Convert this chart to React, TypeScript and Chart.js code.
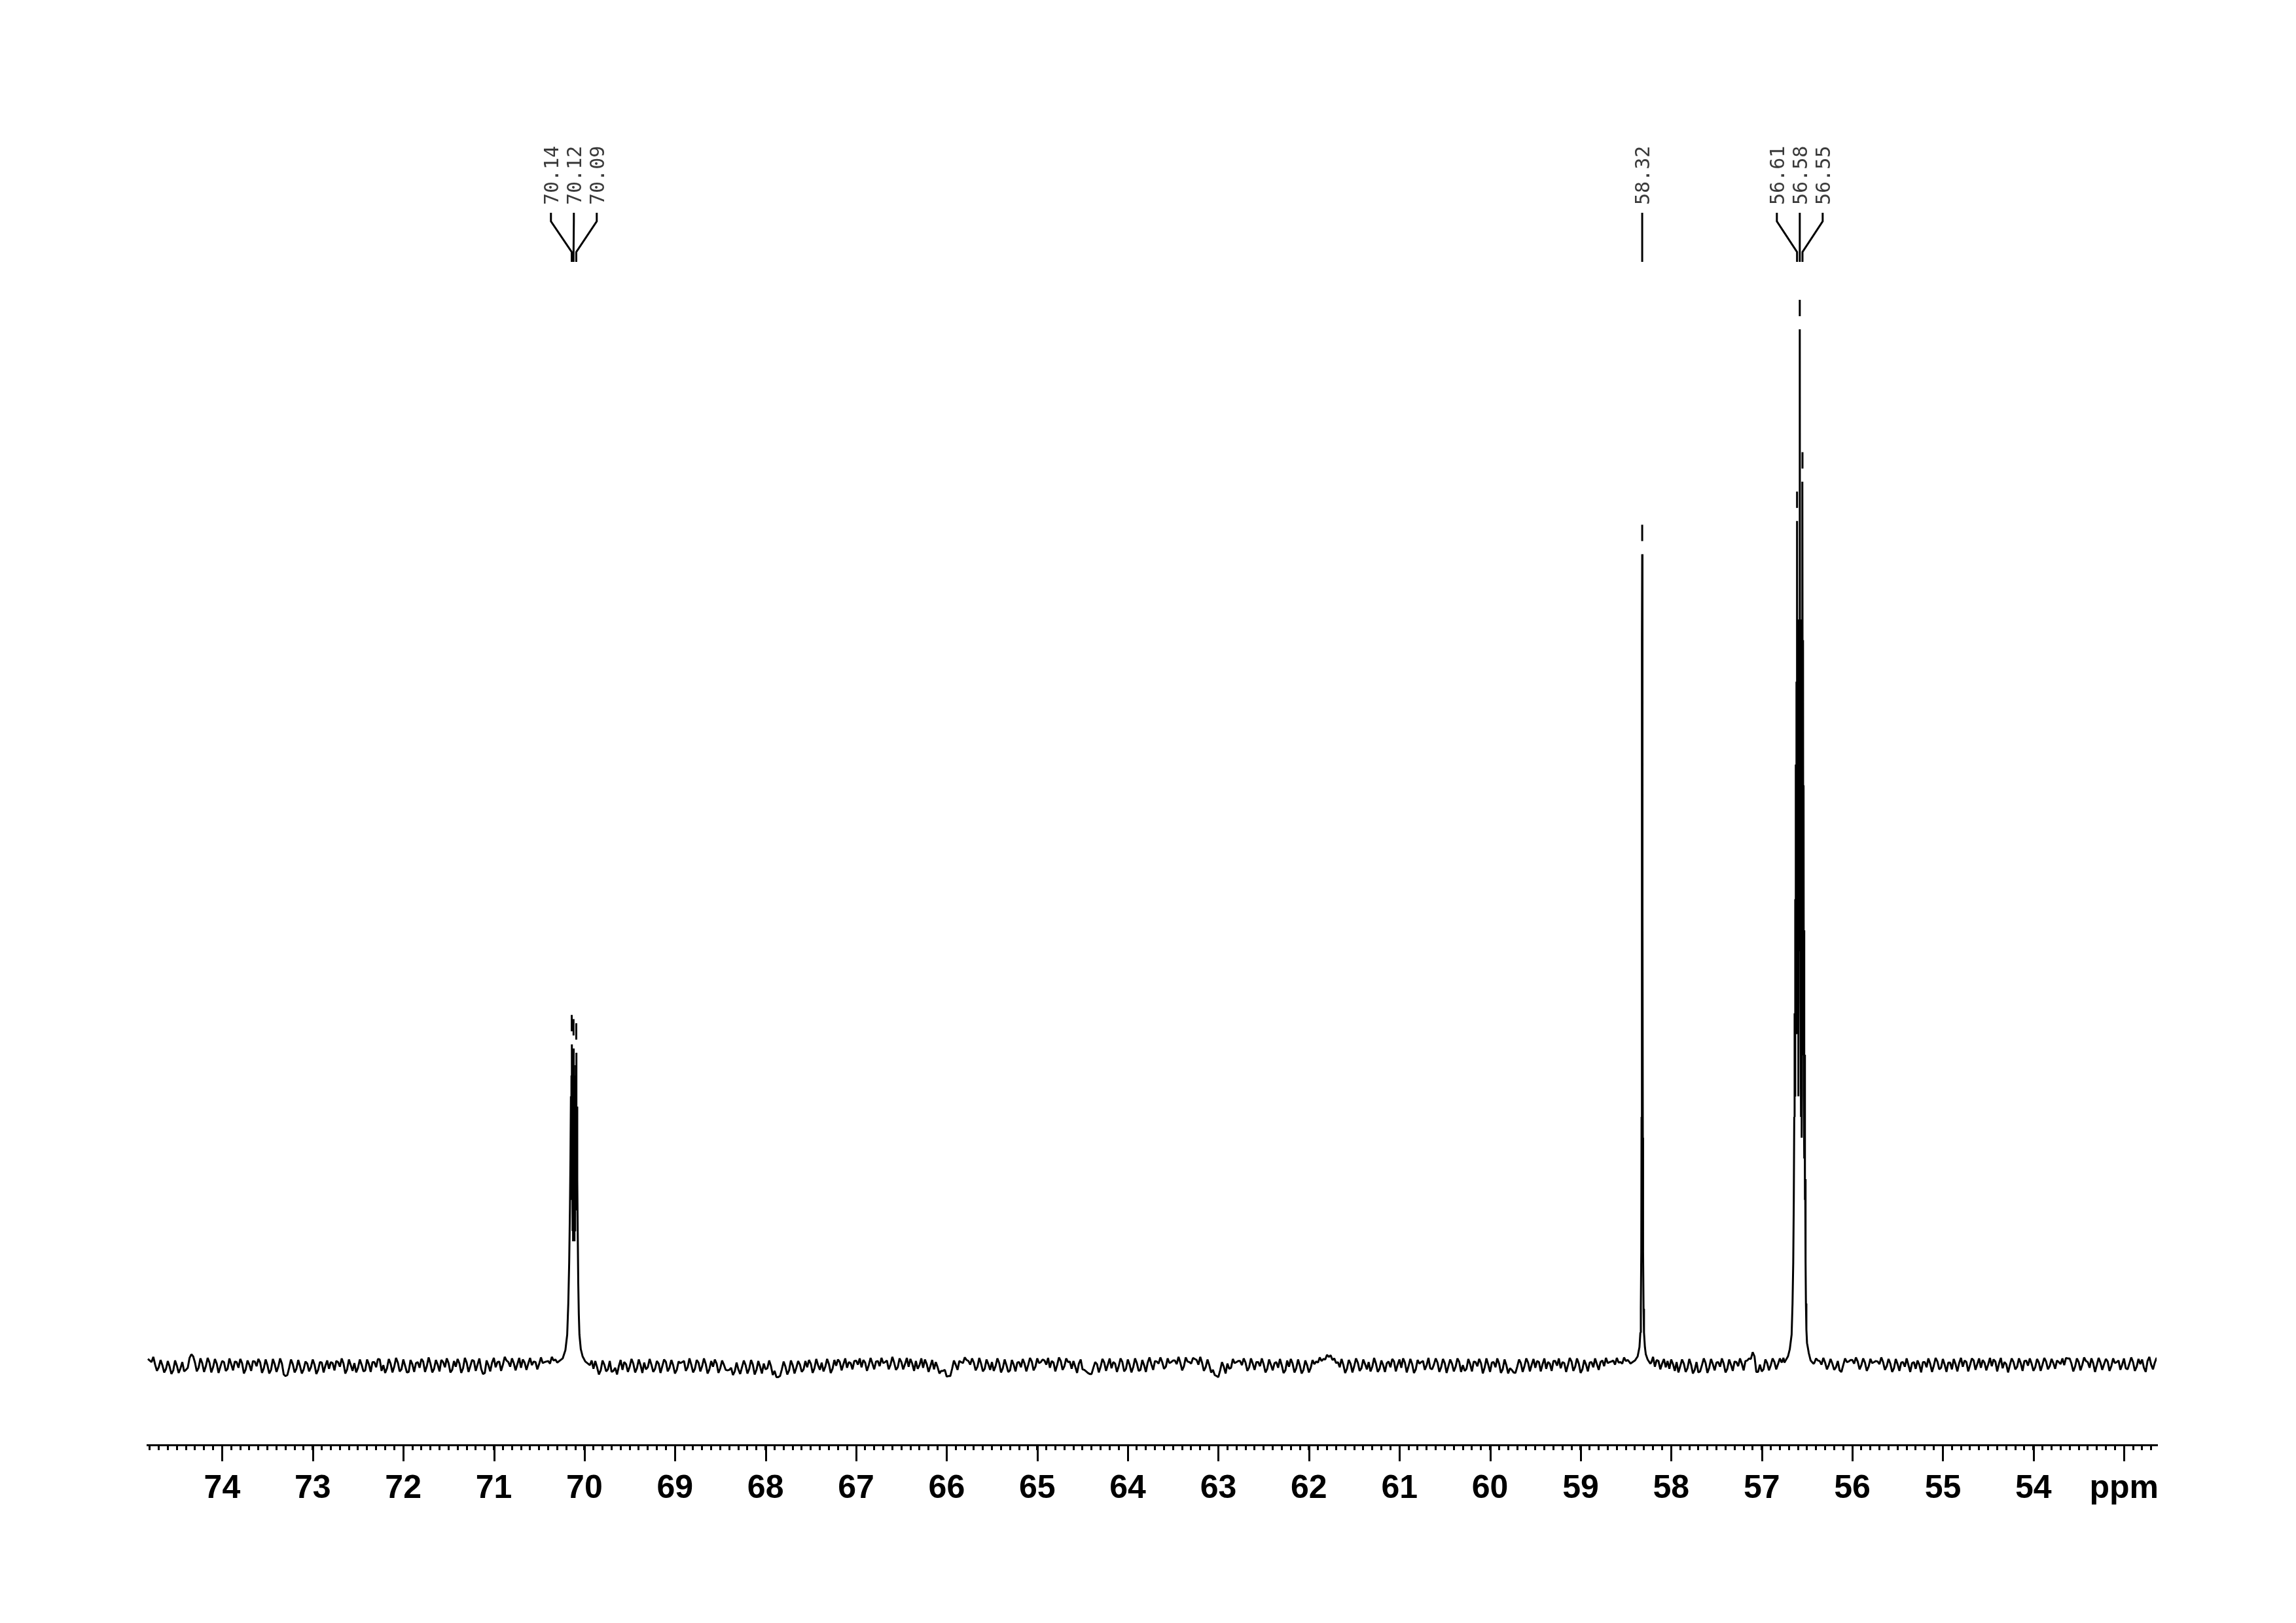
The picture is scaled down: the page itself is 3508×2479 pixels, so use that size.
import React, { useEffect, useRef } from 'react';
import { Chart, registerables } from 'chart.js';

Chart.register(...registerables);

// ---- axis ----
const X_MIN = 52.64;
const X_MAX = 74.827;
const Y_MIN = -7.644;
const Y_MAX = 112.82;
const majorTickValues = [74, 73, 72, 71, 70, 69, 68, 67, 66, 65, 64, 63, 62, 61, 60, 59, 58, 57, 56, 55, 54, 53];
const majorTickLabels = ['74', '73', '72', '71', '70', '69', '68', '67', '66', '65', '64', '63', '62', '61', '60', '59', '58', '57', '56', '55', '54', 'ppm'];
const minorTickFirstTenth = 527;
const minorTickLastTenth = 748;

// ---- baseline (noise) ----
// values every 0.04 ppm starting at 74.82 ppm
const noiseStartPpm = 74.82;
// values every 0.04 ppm starting at 74.80 ppm (in between the first set)
const noiseMidStartPpm = 74.80;
const noiseStepPpm = 0.04;
const baselineNoise: (number | null)[] = [
  0.65, 0.35, 0.10, -0.15, 0.05, -0.30, -0.10, -0.45, 0.00, -0.25, -0.55, -0.20, 1.10, 0.30, -0.20, 0.25, -0.05, 0.30, -0.15, 0.20,
  -0.10, 0.35, -0.30, 0.15, 0.40, -0.20, 0.25, -0.35, 0.10, 0.45, -0.05, 0.30, -0.25, 0.05, -0.40, 0.15, -0.10, 0.20, -1.00, -0.20,
  0.15, -0.30, -0.05, -0.35, 0.20, -0.15, 0.10, -0.40, 0.30, 0.00, -0.30, 0.25, 0.45, -0.10, 0.20, -0.35, 0.05, 0.25, -0.20, 0.10,
  -0.45, 0.15, 0.35, -0.15, 0.60, 0.05, -0.25, 0.20, -0.10, 0.30, -0.35, 0.00, -0.60, 0.15, 0.25, -0.20, 0.40, -0.05, 0.20, -0.30,
  0.10, 0.55, -0.15, 0.25, -0.40, -0.10, 0.20, -0.25, 0.30, -0.05, 0.45, 0.10, -0.30, -0.70, 0.05, 0.30, -0.15, 0.40, 0.10, 0.50,
  -0.10, 0.25, 0.15, -0.20, 0.30, 0.20, 0.05, 0.35, 0.15, 0.25, 0.40, 0.20, 0.50, null, null, null, null, null, null, null,
  null, null, 0.05, -0.30, -0.15, -0.45, 0.10, -0.35, -0.60, -0.20, -0.05, -0.40, 0.15, -0.10, 0.20, -0.25, 0.05, 0.30, -0.15, 0.10,
  -0.30, 0.20, -0.05, 0.35, -0.20, 0.05, -0.40, 0.25, 0.45, -0.15, 0.10, -0.30, 0.30, -0.05, 0.15, -0.35, -0.10, 0.20, -0.25, 0.10,
  -0.45, -0.20, -0.55, -0.35, -0.15, 0.05, -0.30, 0.10, -0.40, -0.10, 0.20, -0.25, -0.05, -0.50, -1.10, -0.35, -0.10, -0.45, 0.05, -0.20,
  0.10, -0.35, -0.15, 0.20, -0.25, 0.05, 0.30, -0.10, 0.15, -0.30, 0.00, 0.35, 0.15, -0.20, 0.25, 0.45, 0.10, -0.15, 0.30, 0.05,
  0.20, 0.40, -0.05, 0.25, 0.50, 0.10, 0.30, -0.15, 0.35, 0.15, -0.10, 0.20, 0.45, 0.05, -0.20, 0.15, -0.05, -0.35, -0.15, -0.50,
  -0.40, -1.00, -0.30, 0.10, 0.45, 0.25, 0.55, 0.10, 0.30, -0.10, 0.20, -0.30, 0.15, 0.35, -0.05, 0.25, -0.25, 0.05, -0.45, 0.10,
  0.30, -0.15, 0.20, 0.05, 0.40, -0.10, 0.25, 0.60, 0.10, -0.20, 0.30, 0.05, 0.45, -0.05, 0.35, -0.30, -0.10, 0.20, -0.35, -0.55,
  -0.80, -0.20, 0.15, -0.10, 0.30, 0.10, -0.25, 0.20, -0.05, 0.35, -0.30, 0.10, -0.15, 0.25, -0.40, 0.05, 0.30, 0.15, 0.45, 0.20,
  0.35, -0.10, 0.25, 0.50, 0.15, 0.30, -0.05, 0.40, 0.20, 0.65, 0.10, 0.30, -0.15, 0.05, -0.40, -1.00, -0.45, -0.10, 0.20, -0.20,
  0.25, 0.45, 0.05, 0.30, -0.15, 0.20, 0.35, -0.05, 0.15, -0.30, 0.10, 0.25, -0.20, 0.05, -0.45, -0.10, 0.20, -0.25, 0.00, -0.40,
  0.05, -0.20, 0.15, 0.30, 0.45, 0.60, 0.85, 0.55, 0.25, -0.15, 0.10, -0.30, 0.20, -0.05, 0.30, -0.25, 0.15, 0.35, -0.10, 0.20,
  -0.30, 0.05, 0.25, -0.15, 0.40, 0.10, -0.20, 0.30, -0.05, 0.15, -0.35, 0.20, 0.45, 0.05, -0.25, 0.10, 0.30, -0.15, 0.25, -0.05,
  0.20, -0.10, 0.35, 0.05, -0.30, 0.15, 0.40, -0.05, 0.25, -0.20, 0.10, 0.30, -0.15, 0.20, -0.35, 0.05, -0.25, -0.65, -0.10, 0.25,
  -0.05, 0.30, 0.10, -0.20, 0.35, 0.15, -0.30, 0.20, 0.45, 0.00, -0.25, 0.25, 0.05, 0.40, -0.10, 0.20, -0.35, 0.10, 0.30, -0.15,
  0.15, 0.35, -0.05, 0.25, 0.40, 0.10, 0.30, 0.20, 0.45, 0.35, null, null, null, null, null, 0.30, -0.10, 0.45, 0.20, -0.15,
  -0.30, 0.15, 0.35, -0.05, 0.20, -0.25, 0.10, -0.40, -0.65, 0.05, 0.25, -0.20, 0.15, 0.30, -0.10, 0.20, -0.30, 0.10, 0.40, -0.05,
  0.20, 0.45, 0.70, 1.30, -0.60, 0.10, -0.35, 0.25, 0.05, 0.35, 0.15, 0.30, null, null, null, null, null, null, null, null,
  0.25, 0.50, 0.10, 0.30, 0.05, 0.20, -0.15, -0.45, 0.05, 0.35, 0.55, 0.20, 0.40, 0.05, 0.30, -0.10, 0.25, 0.45, 0.15, 0.35,
  -0.05, 0.20, -0.25, 0.15, 0.30, -0.10, 0.05, 0.25, -0.30, 0.10, 0.35, -0.15, 0.20, 0.00, 0.40, -0.20, 0.10, 0.30, -0.35, 0.15,
  0.25, -0.10, 0.35, 0.05, 0.50, 0.15, -0.20, 0.30, 0.10, -0.05, 0.40, 0.20, -0.25, 0.15, 0.05, 0.35, -0.10, 0.25, 0.45, 0.00,
  0.20, -0.15, 0.30, 0.10, 0.40, -0.05, 0.25, 0.50, 0.15, 0.05, 0.70, 0.20, -0.10, 0.35, 0.10, 0.45, -0.20, 0.25, 0.05, 0.30,
  0.15, 0.40, -0.05, 0.25, 0.50, 0.10, -0.25, 0.20, 0.35, -0.10, 0.15, -0.20, 0.45, 0.10, 0.30, 0.20,
];
const baselineNoiseMid: (number | null)[] = [
  0.50, 0.85, -0.50, 0.55, -0.65, 0.45, -0.80, 0.50, -0.70, 0.35, -0.40, 0.75, 0.90, -0.55, 0.70, -0.60, 0.75, -0.65, 0.65, -0.70,
  0.45, -0.50, 0.70, -0.45, 0.35, 0.65, -0.75, 0.50, -0.50, 0.40, 0.65, -0.70, 0.60, -0.75, 0.65, -0.60, 0.70, -0.85, -0.90, 0.60,
  -0.65, 0.55, -0.75, 0.40, -0.55, 0.60, -0.80, 0.35, -0.65, 0.50, 0.35, -0.45, 0.35, 0.70, -0.75, 0.60, -0.50, -0.65, 0.60, -0.55,
  0.60, -0.60, 0.35, 0.65, -0.50, -0.70, 0.65, -0.65, 0.75, -0.55, 0.60, -0.65, 0.55, -0.60, 0.35, 0.65, -0.60, 0.80, -0.65, 0.55,
  -0.55, 0.35, 0.70, -0.65, 0.45, 0.65, -0.70, 0.75, -0.60, 0.55, -0.50, 0.70, -0.80, 0.50, -0.55, 0.75, 0.35, -0.50, 0.85, 0.35,
  0.70, -0.45, 0.75, 0.60, -0.40, 0.75, 0.40, -0.35, 0.80, 0.35, 0.45, 0.85, 0.60, null, null, null, null, null, null, null,
  null, null, 0.50, 0.45, -0.85, 0.50, -0.55, 0.45, -0.50, -0.85, 0.55, 0.35, -0.60, 0.65, -0.65, 0.60, -0.70, -0.35, 0.65, -0.60,
  0.45, -0.70, 0.60, -0.55, 0.55, -0.75, 0.40, 0.35, -0.50, 0.70, -0.65, 0.55, -0.55, 0.70, -0.75, 0.45, 0.60, -0.70, 0.50, -0.40,
  -0.40, -0.90, 0.30, -0.80, 0.50, -0.75, 0.55, -0.85, 0.45, -0.75, -0.35, 0.50, -0.90, -1.10, -1.00, 0.40, -0.85, 0.50, -0.75, 0.45,
  -0.60, 0.45, 0.55, -0.70, 0.65, -0.40, -0.55, 0.65, -0.70, 0.55, 0.60, -0.45, 0.70, 0.35, -0.35, 0.50, 0.70, 0.55, -0.50, 0.75,
  -0.35, 0.45, 0.75, 0.35, -0.35, 0.85, -0.40, 0.70, -0.35, 0.75, 0.65, -0.50, -0.30, 0.70, 0.60, -0.60, 0.55, 0.35, -0.75, -0.50,
  -1.05, -1.00, 0.50, -0.40, 0.35, 0.80, 0.45, 0.70, -0.45, 0.75, -0.55, 0.60, -0.40, -0.50, 0.70, -0.65, 0.60, -0.60, 0.55, -0.55,
  0.35, 0.65, -0.55, 0.75, -0.45, 0.70, 0.35, 0.50, 0.75, 0.45, -0.55, 0.80, -0.40, 0.70, 0.40, 0.45, -0.70, 0.60, -0.40, -0.70,
  -0.80, 0.35, -0.65, 0.65, -0.50, 0.70, 0.35, -0.60, 0.70, -0.55, 0.60, -0.65, 0.70, -0.50, 0.55, -0.60, 0.80, -0.40, 0.40, 0.80,
  -0.30, 0.70, 0.35, 0.50, 0.85, -0.45, 0.80, 0.35, 0.75, 0.55, 0.85, -0.50, 0.60, -0.65, -0.90, -1.10, 0.35, -0.75, -0.30, 0.65,
  0.35, 0.45, 0.70, -0.50, 0.70, -0.40, 0.35, 0.70, -0.65, 0.60, -0.45, 0.35, 0.65, -0.70, 0.50, 0.65, -0.65, 0.60, -0.75, 0.50,
  -0.65, 0.55, 0.40, 0.80, 0.65, 1.05, 1.00, 0.70, 0.35, 0.65, -0.70, 0.55, -0.65, 0.70, -0.50, 0.60, -0.35, -0.55, 0.75, -0.60,
  0.50, -0.60, 0.40, 0.65, -0.55, 0.60, 0.70, -0.65, 0.65, -0.70, 0.55, 0.35, -0.40, 0.75, -0.35, 0.70, -0.60, 0.65, -0.70, 0.60,
  -0.55, 0.70, -0.60, -0.50, 0.65, -0.55, 0.35, 0.65, -0.75, 0.70, -0.60, 0.35, 0.70, -0.70, 0.60, -0.75, -0.40, -0.70, 0.60, -0.60,
  0.70, -0.55, 0.65, 0.45, -0.55, 0.70, 0.35, -0.50, 0.45, 0.70, 0.35, -0.60, 0.75, -0.50, 0.70, -0.70, 0.55, -0.55, 0.35, 0.70,
  -0.40, 0.50, 0.75, 0.35, 0.50, 0.75, 0.35, 0.80, 0.55, null, null, null, null, null, null, 0.85, 0.55, -0.35, 0.65, 0.45,
  0.60, -0.50, -0.65, 0.60, -0.60, 0.65, -0.75, 0.35, -0.55, 0.70, -0.70, 0.65, -0.45, 0.35, 0.70, -0.65, 0.60, -0.50, 0.35, 0.70,
  -0.45, 0.50, 0.65, 0.90, -0.60, -0.55, 0.60, -0.45, 0.70, -0.35, 0.70, 0.75, null, null, null, null, null, null, null, null,
  0.70, 0.45, 0.75, -0.35, 0.65, -0.40, 0.45, -0.60, 0.70, 0.40, 0.55, 0.80, -0.35, 0.70, -0.50, 0.65, 0.35, 0.40, 0.80, -0.40,
  0.65, -0.60, 0.65, -0.50, 0.35, 0.70, -0.60, 0.35, 0.50, -0.65, 0.35, 0.70, -0.60, 0.75, -0.35, 0.65, -0.60, 0.30, 0.65, -0.55,
  0.75, 0.50, -0.55, 0.70, -0.40, 0.70, 0.55, -0.45, 0.75, 0.60, -0.55, 0.75, 0.35, -0.65, 0.70, -0.35, 0.70, -0.50, 0.50, 0.70,
  -0.50, 0.65, -0.50, 0.75, -0.35, 0.65, -0.30, 0.35, 0.70, 0.75, 0.70, -0.55, 0.70, -0.45, 0.80, 0.35, 0.70, -0.60, 0.75, -0.40,
  0.65, -0.50, 0.70, 0.35, -0.40, 0.70, -0.35, 0.80, -0.50, 0.65, 0.60, -0.60, 0.85, -0.35, 0.75,
];

// ---- peak regions: [ppm, intensity] ----
const peak70: [number, number][] = [
  [70.30, 0.3], [70.24, 0.7], [70.21, 1.5], [70.19, 3], [70.178, 6], [70.168, 10], [70.16, 15], [70.154, 20],
  [70.149, 26], [70.146, 17], [70.143, 28], [70.140, 31.0], [70.137, 16], [70.134, 27], [70.131, 13], [70.128, 26],
  [70.125, 12], [70.122, 28], [70.120, 30.6], [70.117, 14], [70.114, 27], [70.111, 12], [70.108, 25], [70.105, 13],
  [70.102, 28], [70.099, 15], [70.096, 29], [70.093, 18], [70.090, 30.2], [70.087, 20], [70.083, 25], [70.079, 18],
  [70.074, 13], [70.068, 8], [70.062, 5], [70.055, 3], [70.04, 1.6], [70.02, 0.9], [69.99, 0.4], [69.96, 0.2],
];
const peak5832: [number, number][] = [
  [58.45, 0.2], [58.40, 0.5], [58.37, 0.9], [58.35, 1.8], [58.34, 3.2], [58.335, 5.5], [58.33, 11], [58.327, 24],
  [58.324, 50], [58.322, 70], [58.320, 78.3], [58.318, 62], [58.316, 44], [58.313, 22], [58.31, 11], [58.305, 5.5],
  [58.30, 3.2], [58.29, 1.8], [58.28, 1.1], [58.26, 0.6], [58.23, 0.2],
];
const peak566: [number, number][] = [
  [56.75, 0.3], [56.71, 0.9], [56.69, 1.6], [56.67, 3], [56.66, 6], [56.652, 10], [56.646, 16], [56.641, 24],
  [56.637, 34], [56.633, 26], [56.630, 45], [56.627, 32], [56.624, 58], [56.621, 38], [56.618, 66], [56.615, 44],
  [56.612, 64], [56.610, 81.5], [56.607, 48], [56.604, 70], [56.601, 32], [56.598, 72], [56.595, 26], [56.592, 68],
  [56.589, 40], [56.586, 72], [56.583, 58], [56.580, 100], [56.577, 55], [56.574, 72], [56.571, 35], [56.568, 70],
  [56.565, 24], [56.562, 68], [56.559, 22], [56.556, 72], [56.553, 62], [56.550, 85.3], [56.547, 48], [56.544, 70],
  [56.541, 30], [56.538, 56], [56.535, 26], [56.532, 42], [56.529, 20], [56.526, 30], [56.523, 16], [56.52, 18],
  [56.516, 10], [56.512, 6], [56.507, 3.5], [56.50, 2.2], [56.49, 1.7], [56.48, 1.2], [56.46, 0.5], [56.43, 0.2],
];

// ---- peak picking labels ----
const peakLabelPpm = [70.14, 70.12, 70.09, 58.32, 56.61, 56.58, 56.55];
const peakLabelText = ['70.14', '70.12', '70.09', '58.32', '56.61', '56.58', '56.55'];
const peakLabelGroup = [0, 0, 0, 1, 2, 2, 2];
const peakTopValue = [31.0, 30.6, 30.2, 78.3, 81.5, 100, 85.3];

// ---- styles ----
const LABEL_SPACING = 35;
const LABEL_FONT_SIZE = 30;

function buildSeries() {
  const peaks = [peak70, peak5832, peak566];
  const windows = peaks.map((p) => {
    const xs = p.map((q) => q[0]);
    return [Math.min(...xs), Math.max(...xs)];
  });
  const pts: { x: number; y: number }[] = [];
  const addNoise = (arr: (number | null)[], start: number) => {
    arr.forEach((v, i) => {
      if (v === null) return;
      const x = +(start - i * noiseStepPpm).toFixed(4);
      if (windows.some(([lo, hi]) => x >= lo - 1e-9 && x <= hi + 1e-9)) return;
      pts.push({ x, y: v });
    });
  };
  addNoise(baselineNoise, noiseStartPpm);
  addNoise(baselineNoiseMid, noiseMidStartPpm);
  peaks.forEach((p) => p.forEach(([x, y]) => pts.push({ x, y })));
  pts.sort((a, b) => b.x - a.x);
  return pts;
}

const annotationPlugin = {
  id: 'nmrAnnotations',
  afterDraw(chart: any) {
    const ctx = chart.ctx as CanvasRenderingContext2D;
    const xs = chart.scales.x;
    const ys = chart.scales.y;
    const area = chart.chartArea;
    ctx.save();
    ctx.strokeStyle = '#000';
    ctx.lineWidth = 3;
    ctx.lineCap = 'butt';
    // long major ticks
    majorTickValues.forEach((v) => {
      const px = Math.round(xs.getPixelForValue(v)) + 0.5;
      ctx.beginPath();
      ctx.moveTo(px, area.bottom);
      ctx.lineTo(px, area.bottom + 25);
      ctx.stroke();
    });
    // peak labels
    const textBottom = area.top + 13;
    const groups = Array.from(new Set(peakLabelGroup));
    groups.forEach((g) => {
      const idx = peakLabelGroup.map((gg, i) => (gg === g ? i : -1)).filter((i) => i >= 0);
      const pxs = idx.map((i) => xs.getPixelForValue(peakLabelPpm[i]));
      const center = pxs.reduce((a, b) => a + b, 0) / pxs.length;
      idx.forEach((i, k) => {
        const lx = center + (k - (idx.length - 1) / 2) * LABEL_SPACING;
        const px = pxs[k];
        ctx.save();
        ctx.translate(lx, textBottom);
        ctx.rotate(-Math.PI / 2);
        ctx.font = `${LABEL_FONT_SIZE}px "DejaVu Sans Mono"`;
        ctx.fillStyle = '#3a3a3a';
        ctx.textAlign = 'left';
        ctx.textBaseline = 'alphabetic';
        ctx.fillText(peakLabelText[i], 0, LABEL_FONT_SIZE * 0.364);
        ctx.restore();
        ctx.lineWidth = 3;
        ctx.beginPath();
        ctx.moveTo(lx, area.top + 25);
        ctx.lineTo(lx, area.top + 38);
        ctx.lineTo(px, area.top + 85);
        ctx.lineTo(px, area.top + 100);
        ctx.stroke();
        const topY = ys.getPixelForValue(peakTopValue[i]);
        ctx.beginPath();
        ctx.moveTo(px, topY - 20);
        ctx.lineTo(px, topY - 45);
        ctx.stroke();
      });
    });
    ctx.restore();
  },
};

export default function App() {
  const ref = useRef<HTMLCanvasElement | null>(null);
  useEffect(() => {
    if (!ref.current) return;
    const data = buildSeries();
    const chart = new Chart(ref.current, {
      type: 'line',
      data: {
        datasets: [
          {
            data,
            borderColor: '#000',
            borderWidth: 3,
            pointRadius: 0,
            tension: 0,
            borderJoinStyle: 'bevel',
            fill: false,
          } as any,
        ],
      },
      options: {
        animation: false,
        responsive: false,
        devicePixelRatio: 1,
        parsing: false,
        layout: { padding: { top: 300, left: 225, right: 213, bottom: 0 } },
        plugins: { legend: { display: false }, tooltip: { enabled: false } },
        scales: {
          x: {
            type: 'linear',
            reverse: true,
            min: X_MIN,
            max: X_MAX,
            afterBuildTicks: (scale: any) => {
              const t = [];
              for (let k = minorTickFirstTenth; k <= minorTickLastTenth; k++) t.push({ value: k / 10 });
              scale.ticks = t;
            },
            afterFit: (scale: any) => {
              scale.height = 272;
            },
            ticks: {
              autoSkip: false,
              maxRotation: 0,
              minRotation: 0,
              padding: 29,
              color: '#000',
              font: { family: '"Liberation Sans", Arial, sans-serif', size: 50, weight: 'bold' },
              callback: (value: any) => {
                const v = Number(value);
                if (Math.abs(v - Math.round(v)) > 1e-6) return '';
                const j = majorTickValues.indexOf(Math.round(v));
                return j >= 0 ? majorTickLabels[j] : '';
              },
            },
            grid: {
              drawOnChartArea: false,
              drawTicks: true,
              tickLength: 8,
              tickWidth: 3,
              tickColor: '#000',
              color: '#000',
              lineWidth: 3,
            },
            border: { display: true, color: '#000', width: 3 },
          },
          y: {
            type: 'linear',
            display: false,
            min: Y_MIN,
            max: Y_MAX,
          },
        },
      } as any,
      plugins: [annotationPlugin],
    });
    return () => chart.destroy();
  }, []);
  return (
    <div style={{ position: 'absolute', left: 0, top: 0, width: 3508, height: 2479, background: '#fff' }}>
      <canvas ref={ref} width={3508} height={2479} style={{ width: 3508, height: 2479, display: 'block' }} />
    </div>
  );
}
